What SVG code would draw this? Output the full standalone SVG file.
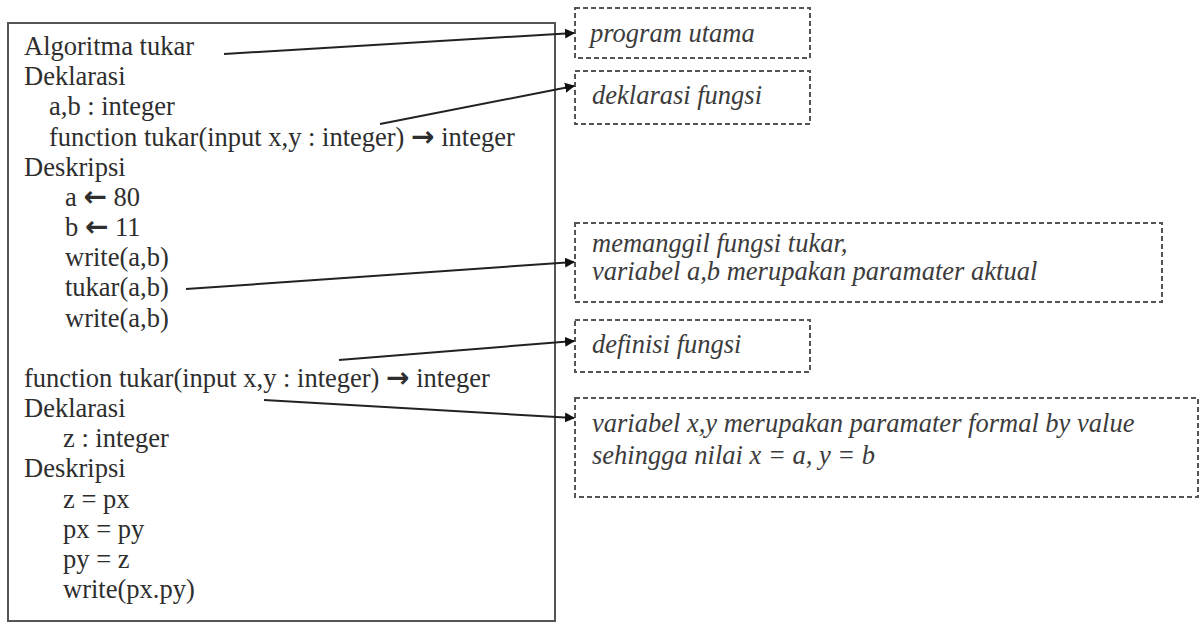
<svg xmlns="http://www.w3.org/2000/svg" width="1203" height="625" viewBox="0 0 1203 625">
<defs>
<style>
.code{font-family:"Liberation Serif","Times New Roman",serif;font-size:26.5px;fill:#2e2e2e}
.arr{font-family:"DejaVu Sans",sans-serif;font-weight:bold;font-size:28px}
.note{font-family:"Liberation Serif","Times New Roman",serif;font-size:26.5px;font-style:italic;fill:#3c3c3c}
.dash{fill:none;stroke:#555;stroke-width:2;stroke-dasharray:5 3}
.main{fill:none;stroke:#555;stroke-width:2}
.conn{fill:none;stroke:#222;stroke-width:2;marker-end:url(#ah)}
</style>
<marker id="ah" viewBox="0 0 10 10" refX="9" refY="5" markerWidth="5" markerHeight="5" orient="auto" markerUnits="strokeWidth">
<path d="M0,0 L10,5 L0,10 z" fill="#111"/>
</marker>
</defs>
<rect width="1203" height="625" fill="#fff"/>
<g id="code-box">
<rect class="main" x="8" y="23" width="547" height="598"/>
<text class="code" x="24" y="55">Algoritma tukar</text>
<text class="code" x="24" y="85">Deklarasi</text>
<text class="code" x="49" y="115">a,b : integer</text>
<text class="code" x="49" y="146">function tukar(input x,y : integer) <tspan class="arr">→</tspan> integer</text>
<text class="code" x="24" y="176">Deskripsi</text>
<text class="code" x="65" y="206"><tspan>a </tspan><tspan class="arr">←</tspan> 80</text>
<text class="code" x="65" y="236"><tspan>b </tspan><tspan class="arr">←</tspan> 11</text>
<text class="code" x="65" y="266">write(a,b)</text>
<text class="code" x="65" y="296">tukar(a,b)</text>
<text class="code" x="65" y="327">write(a,b)</text>
<text class="code" x="24" y="387">function tukar(input x,y : integer) <tspan class="arr">→</tspan> integer</text>
<text class="code" x="24" y="417">Deklarasi</text>
<text class="code" x="63" y="447">z : integer</text>
<text class="code" x="24" y="477">Deskripsi</text>
<text class="code" x="63" y="508">z = px</text>
<text class="code" x="63" y="538">px = py</text>
<text class="code" x="63" y="568">py = z</text>
<text class="code" x="63" y="598">write(px.py)</text>
</g>
<g id="note-program-utama">
<rect class="dash" x="575" y="8" width="235" height="50"/>
<text class="note" x="590" y="42">program utama</text>
</g>
<g id="note-deklarasi-fungsi">
<rect class="dash" x="575" y="71" width="235" height="53"/>
<text class="note" x="592" y="104">deklarasi fungsi</text>
</g>
<g id="note-memanggil">
<rect class="dash" x="575" y="223" width="587" height="79"/>
<text class="note" x="592" y="252">memanggil fungsi tukar,</text>
<text class="note" x="592" y="280">variabel a,b merupakan paramater aktual</text>
</g>
<g id="note-definisi-fungsi">
<rect class="dash" x="575" y="320" width="235" height="52"/>
<text class="note" x="592" y="353">definisi fungsi</text>
</g>
<g id="note-variabel-xy">
<rect class="dash" x="575" y="398" width="623" height="99"/>
<text class="note" x="592" y="432">variabel x,y merupakan paramater formal by value</text>
<text class="note" x="592" y="464">sehingga nilai x = a, y = b</text>
</g>
<g id="connectors">
<line class="conn" x1="224" y1="54" x2="574" y2="33"/>
<line class="conn" x1="380" y1="124" x2="574" y2="86"/>
<line class="conn" x1="186" y1="289" x2="574" y2="262"/>
<line class="conn" x1="339" y1="360" x2="574" y2="341"/>
<line class="conn" x1="264" y1="400" x2="574" y2="418"/>
</g>
</svg>
